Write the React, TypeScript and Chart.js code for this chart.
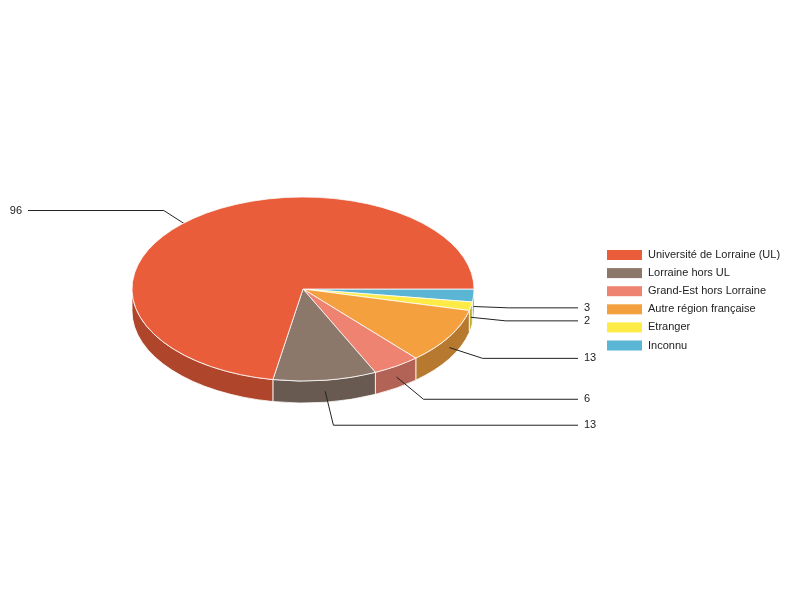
import { useEffect, useRef } from "react";
import { Chart, registerables } from "chart.js";

Chart.register(...registerables);

const categories = [
  "Université de Lorraine (UL)",
  "Lorraine hors UL",
  "Grand-Est hors Lorraine",
  "Autre région française",
  "Etranger",
  "Inconnu",
];
const values = [96, 13, 6, 13, 2, 3];
const colors = ["#E95D3A", "#8B786B", "#EE8372", "#F4A03F", "#FFEB45", "#5BB5D5"];

const TILT = 0.538;
const DEPTH = 22;
const FONT = "11px 'Liberation Sans', Arial, sans-serif";

function shade(hex: string, f: number) {
  const n = parseInt(hex.slice(1), 16);
  const r = Math.round(((n >> 16) & 255) * f);
  const g = Math.round(((n >> 8) & 255) * f);
  const b = Math.round((n & 255) * f);
  return `rgb(${r},${g},${b})`;
}

const TWO_PI = Math.PI * 2;
function norm(a: number) {
  let v = a % TWO_PI;
  if (v < 0) v += TWO_PI;
  return v;
}

function drawLabels(chart: any, front: boolean) {
  const ctx = chart.ctx;
  const meta = chart.getDatasetMeta(0);
  const data = chart.data.datasets[0].data;
  ctx.save();
  ctx.strokeStyle = "#222";
  ctx.lineWidth = 1;
  ctx.fillStyle = "#222";
  ctx.font = FONT;
  ctx.textBaseline = "middle";
  meta.data.forEach((arc: any, i: number) => {
    const { x: cx, y: cy, startAngle, endAngle, outerRadius: r } = arc;
    const mid = norm((startAngle + endAngle) / 2);
    const isFront = Math.sin(mid) > 0;
    if (isFront !== front) return;
    const dx = r * Math.cos(mid);
    const dy = r * TILT * Math.sin(mid);
    const ax = cx + dx;
    const ay = cy + dy + DEPTH / 2;
    const len = Math.hypot(dx, dy);
    const ex = ax + (35 * dx) / len;
    const ey = ay + (35 * dy) / len;
    const right = Math.cos(mid) >= 0;
    const endX = right ? 578 : 28;
    ctx.beginPath();
    ctx.moveTo(ax, ay);
    ctx.lineTo(ex, ey);
    ctx.lineTo(endX, ey);
    ctx.stroke();
    ctx.textAlign = right ? "left" : "right";
    ctx.fillText(String(data[i]), right ? endX + 6 : endX - 6, ey);
  });
  ctx.restore();
}

function drawLegend(chart: any) {
  const ctx = chart.ctx;
  ctx.save();
  ctx.font = FONT;
  ctx.textBaseline = "middle";
  ctx.textAlign = "left";
  categories.forEach((c, i) => {
    const y = 250 + i * 18.1;
    ctx.fillStyle = colors[i];
    ctx.fillRect(607, y, 35, 10);
    ctx.fillStyle = "#222";
    ctx.fillText(c, 648, y + 5);
  });
  ctx.restore();
}

const pie3d = {
  id: "pie3d",
  beforeDatasetsDraw(chart: any) {
    const ctx = chart.ctx;
    const meta = chart.getDatasetMeta(0);
    const arcs = meta.data;
    if (!arcs.length) return;
    drawLabels(chart, false);
    const bg = chart.data.datasets[0].backgroundColor;
    arcs.forEach((arc: any, i: number) => {
      const { x: cx, y: cy, startAngle, endAngle, outerRadius: r } = arc;
      const s = norm(startAngle);
      const e = s + (endAngle - startAngle);
      const ranges: [number, number][] = [];
      for (const [lo, hi] of [[0, Math.PI], [TWO_PI, TWO_PI + Math.PI]]) {
        const a1 = Math.max(s, lo);
        const a2 = Math.min(e, hi);
        if (a2 > a1) ranges.push([a1, a2]);
      }
      ranges.forEach(([a1, a2]) => {
        ctx.save();
        ctx.beginPath();
        ctx.ellipse(cx, cy, r, r * TILT, 0, a1, a2, false);
        ctx.lineTo(cx + r * Math.cos(a2), cy + r * TILT * Math.sin(a2) + DEPTH);
        ctx.ellipse(cx, cy + DEPTH, r, r * TILT, 0, a2, a1, true);
        ctx.closePath();
        ctx.fillStyle = shade(bg[i], 0.75);
        ctx.fill();
        ctx.strokeStyle = "rgba(255,255,255,0.8)";
        ctx.lineWidth = 1;
        ctx.stroke();
        ctx.restore();
      });
    });
    const { x: cx, y: cy } = arcs[0];
    ctx.save();
    ctx.translate(cx, cy);
    ctx.scale(1, TILT);
    ctx.translate(-cx, -cy);
  },
  afterDatasetsDraw(chart: any) {
    const meta = chart.getDatasetMeta(0);
    if (!meta.data.length) return;
    chart.ctx.restore();
    drawLabels(chart, true);
  },
  afterDraw(chart: any) {
    drawLegend(chart);
  },
};

export default function App() {
  const ref = useRef<HTMLCanvasElement | null>(null);
  useEffect(() => {
    if (!ref.current) return;
    const chart = new Chart(ref.current, {
      type: "pie",
      data: {
        labels: [...categories].reverse(),
        datasets: [
          {
            data: [...values].reverse(),
            backgroundColor: [...colors].reverse(),
            borderColor: "#ffffff",
            borderWidth: 1,
          },
        ],
      },
      options: {
        responsive: false,
        animation: false,
        rotation: 90,
        radius: 171,
        layout: { padding: { left: 132, top: 118, right: 326, bottom: 140 } },
        plugins: {
          legend: { display: false },
          tooltip: { enabled: false },
        },
        events: [],
      },
      plugins: [pie3d],
    });
    return () => chart.destroy();
  }, []);
  return (
    <div style={{ position: "absolute", left: 0, top: 0, width: 800, height: 600, background: "#fff" }}>
      <canvas ref={ref} width={800} height={600} />
    </div>
  );
}
